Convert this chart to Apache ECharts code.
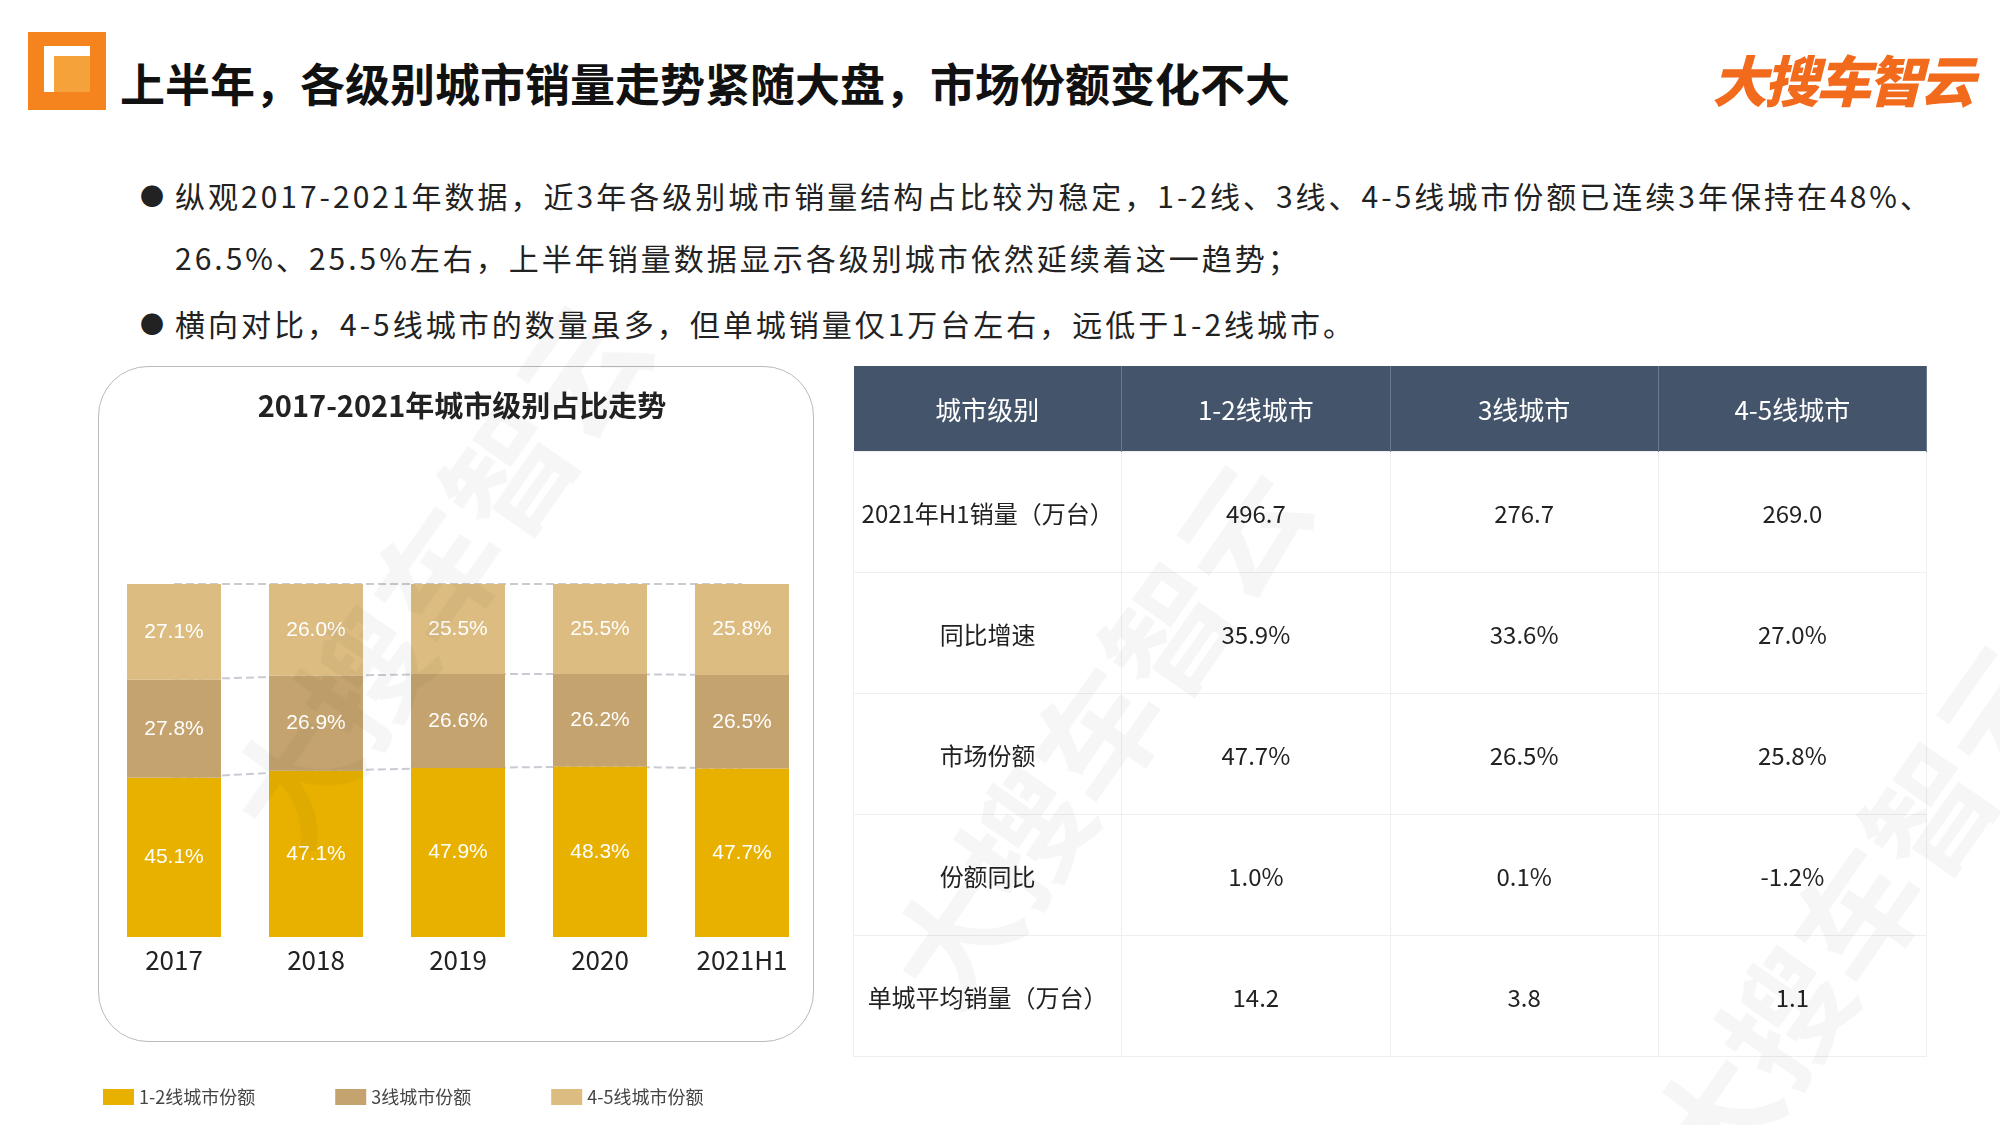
<!DOCTYPE html>
<html><head><meta charset="utf-8">
<script src="https://cdn.jsdelivr.net/npm/echarts@6/dist/echarts.min.js"></script>
<style>
body{margin:0;width:2000px;height:1125px;background:#fff;position:relative;overflow:hidden;font-family:"Noto Sans CJK SC","Noto Sans",sans-serif;color:#222}
.abs{position:absolute}
#chart{position:absolute;left:0;top:0;width:2000px;height:1125px}
table{border-collapse:collapse;position:absolute;left:853px;top:366px;width:1074px;table-layout:fixed}
th{background:#44546a;color:#fff;font-weight:normal;font-size:26px;height:83px;border-right:1px solid #6b7a90}
td{font-size:24px;height:118px;text-align:center;border:1px solid #efefef}
.wm{position:absolute;font-size:125px;font-weight:bold;color:rgba(0,0,0,0.035);transform:rotate(-55deg);white-space:nowrap;pointer-events:none}
</style></head><body>
<div class="abs" style="left:28px;top:32px;width:78px;height:78px;background:#f5841f"></div>
<div class="abs" style="left:44px;top:46px;width:46px;height:46px;background:#fff"></div>
<div class="abs" style="left:54px;top:56px;width:36px;height:36px;background:#f5a23a"></div>
<div class="abs" style="left:120px;top:50px;font-size:45px;font-weight:bold;color:#111">上半年，各级别城市销量走势紧随大盘，市场份额变化不大</div>
<div class="abs" style="left:1712px;top:38px;font-size:55px;font-weight:900;font-style:italic;color:#f26a1b;letter-spacing:-3px">大搜车智云</div>
<div class="abs" style="left:140px;top:164px;font-size:30px;line-height:62px;width:1850px;letter-spacing:3px">
<div style="position:relative;padding-left:35px"><span style="position:absolute;left:0;font-size:24px">●</span>纵观2017-2021年数据，近3年各级别城市销量结构占比较为稳定，1-2线、3线、4-5线城市份额已连续3年保持在48%、<br>26.5%、25.5%左右，上半年销量数据显示各级别城市依然延续着这一趋势；</div>
<div style="position:relative;padding-left:35px;margin-top:4px"><span style="position:absolute;left:0;font-size:24px">●</span>横向对比，4-5线城市的数量虽多，但单城销量仅1万台左右，远低于1-2线城市。</div>
</div>
<div class="abs" style="left:98px;top:366px;width:714px;height:674px;border:1.5px solid #bbb;border-radius:50px"></div>
<div id="chart"></div>
<table id="tbl"></table>
<div class="wm" style="left:120px;top:480px">大搜车智云</div>
<div class="wm" style="left:780px;top:640px">大搜车智云</div>
<div class="wm" style="left:1540px;top:820px">大搜车智云</div>
<script>
const categories=['2017','2018','2019','2020','2021H1'];
const tier12=[45.1,47.1,47.9,48.3,47.7];
const tier3=[27.8,26.9,26.6,26.2,26.5];
const tier45=[27.1,26.0,25.5,25.5,25.8];
const seriesNames=['1-2线城市份额','3线城市份额','4-5线城市份额'];
const colors=['#e8b100','#c4a36e','#dcbc80'];
const tableHeader=['城市级别','1-2线城市','3线城市','4-5线城市'];
const tableRows=[
 ['2021年H1销量（万台）','496.7','276.7','269.0'],
 ['同比增速','35.9%','33.6%','27.0%'],
 ['市场份额','47.7%','26.5%','25.8%'],
 ['份额同比','1.0%','0.1%','-1.2%'],
 ['单城平均销量（万台）','14.2','3.8','1.1']];
let h='<tr>'+tableHeader.map(t=>'<th>'+t+'</th>').join('')+'</tr>';
tableRows.forEach(r=>{h+='<tr>'+r.map(c=>'<td>'+c+'</td>').join('')+'</tr>';});
document.getElementById('tbl').innerHTML=h;
const cum1=tier12.slice();
const cum2=tier12.map((v,i)=>+(v+tier3[i]).toFixed(1));
const cum3=tier12.map((v,i)=>+(v+tier3[i]+tier45[i]).toFixed(1));
const ch=echarts.init(document.getElementById('chart'));
const lbl={show:true,color:'#fff',fontSize:21,formatter:p=>p.value.toFixed(1)+'%'};
const bar=(n,d,c)=>({name:n,type:'bar',stack:'s',data:d,barWidth:94,itemStyle:{color:c},label:lbl,z:3});
const ln=d=>({type:'line',data:d,symbol:'none',lineStyle:{color:'#c8ccd2',type:'dashed',width:2},z:1,silent:true,tooltip:{show:false}});
ch.setOption({
 animation:false,
 title:{text:'2017-2021年城市级别占比走势',left:457,top:386,textAlign:'center',textStyle:{fontSize:29,fontWeight:'bold',color:'#222',fontFamily:'Noto Sans CJK SC'}},
 legend:{data:seriesNames,left:98,top:1083,itemWidth:31,itemHeight:16,itemGap:80,icon:'rect',textStyle:{fontSize:18,color:'#444',fontFamily:'Noto Sans CJK SC'}},
 grid:{left:103,right:1187,top:584,bottom:188},
 xAxis:{type:'category',data:categories,axisLine:{show:false},axisTick:{show:false},axisLabel:{fontSize:26,color:'#222',margin:10,fontFamily:'Noto Sans CJK SC'}},
 yAxis:{type:'value',min:0,max:100,show:false},
 series:[bar(seriesNames[0],tier12,colors[0]),bar(seriesNames[1],tier3,colors[1]),bar(seriesNames[2],tier45,colors[2]),ln(cum1),ln(cum2),ln(cum3)]
});
</script></body></html>
